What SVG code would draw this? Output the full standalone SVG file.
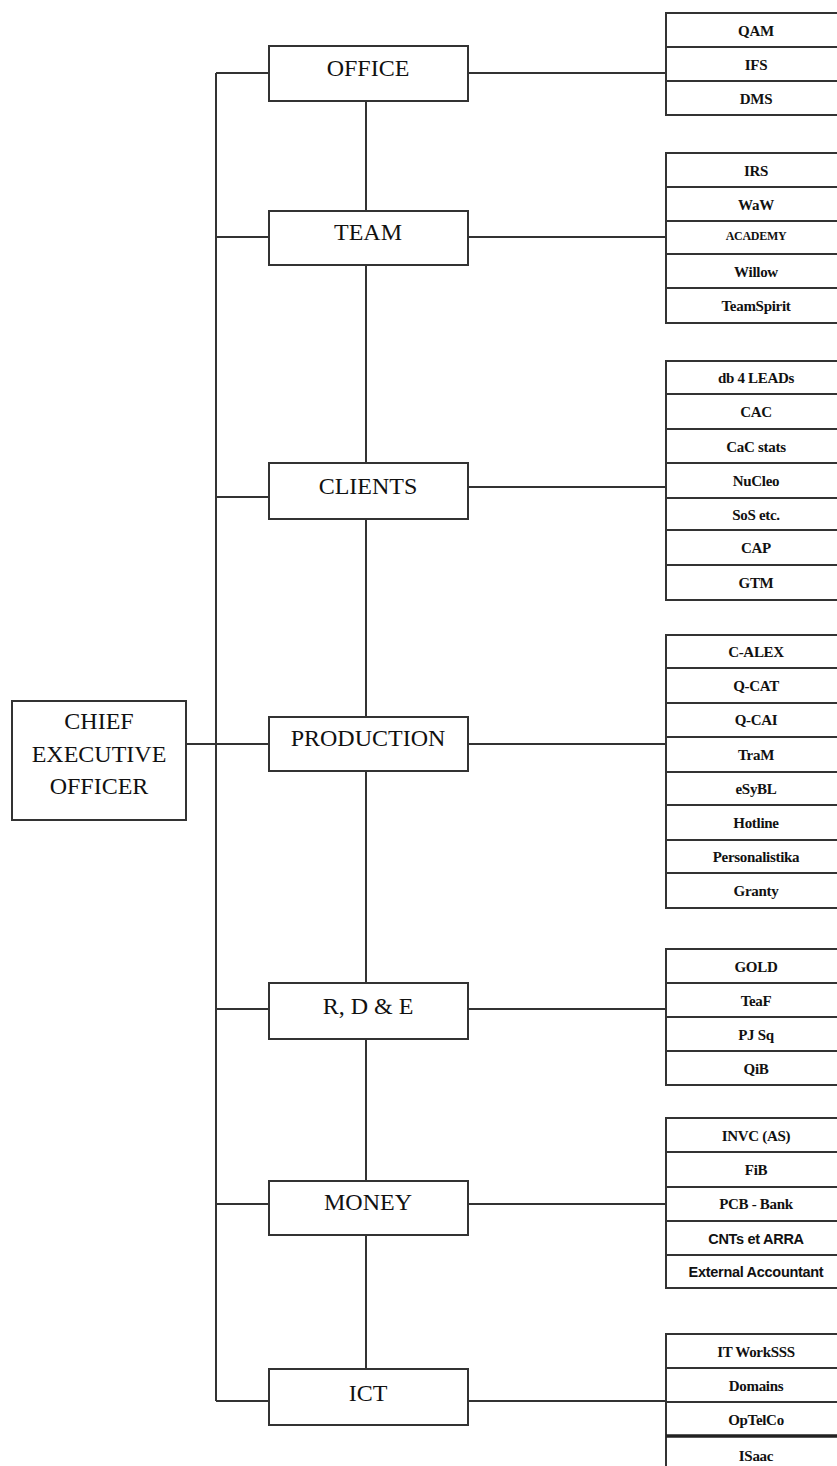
<svg xmlns="http://www.w3.org/2000/svg" width="837" height="1466" viewBox="0 0 837 1466">
<style>
.bx{fill:#fff;stroke:#333;stroke-width:2}
.ln{fill:none;stroke:#333;stroke-width:2}
.mt{font-family:"Liberation Serif","Times New Roman",serif;font-size:24px;fill:#111;text-anchor:middle}
.it{font-family:"Liberation Serif","Times New Roman",serif;font-size:15px;font-weight:bold;fill:#111;text-anchor:middle;letter-spacing:-0.3px}
.sm{font-size:12px}
.sa{font-family:"Liberation Sans",Arial,sans-serif;font-size:14.5px;font-weight:bold;letter-spacing:-0.3px}
</style>
<rect width="837" height="1466" fill="#fff"/>
<g id="connectors">
<path class="ln" d="M216 73V1401"/>
<path class="ln" d="M186 744H269"/>
<path class="ln" d="M216 73H269M216 237H269M216 497H269M216 1009H269M216 1204H269M216 1401H269"/>
<path class="ln" d="M366 101V211M366 265V463M366 519V717M366 771V983M366 1039V1181M366 1235V1369"/>
<path class="ln" d="M468 73H666M468 237H666M468 487H666M468 744H666M468 1009H666M468 1204H666M468 1401H666"/>
</g>
<g id="ceo">
<rect class="bx" x="12" y="701" width="174" height="119"/>
<text class="mt" x="99" y="729">CHIEF</text>
<text class="mt" x="99" y="762">EXECUTIVE</text>
<text class="mt" x="99" y="794">OFFICER</text>
</g>
<g id="office"><rect class="bx" x="269" y="46" width="199" height="55"/><text class="mt" x="368" y="76">OFFICE</text></g>
<g id="team"><rect class="bx" x="269" y="211" width="199" height="54"/><text class="mt" x="368" y="240">TEAM</text></g>
<g id="clients"><rect class="bx" x="269" y="463" width="199" height="56"/><text class="mt" x="368" y="494">CLIENTS</text></g>
<g id="production"><rect class="bx" x="269" y="717" width="199" height="54"/><text class="mt" x="368" y="746">PRODUCTION</text></g>
<g id="rde"><rect class="bx" x="269" y="983" width="199" height="56"/><text class="mt" x="368" y="1014">R, D &amp; E</text></g>
<g id="money"><rect class="bx" x="269" y="1181" width="199" height="54"/><text class="mt" x="368" y="1210">MONEY</text></g>
<g id="ict"><rect class="bx" x="269" y="1369" width="199" height="56"/><text class="mt" x="368" y="1401">ICT</text></g>

<g id="office-list">
<rect class="bx" x="666" y="13" width="190" height="34"/><text class="it" x="756" y="36">QAM</text>
<rect class="bx" x="666" y="47" width="190" height="34"/><text class="it" x="756" y="70">IFS</text>
<rect class="bx" x="666" y="81" width="190" height="34"/><text class="it" x="756" y="104">DMS</text>
</g>
<g id="team-list">
<rect class="bx" x="666" y="153" width="190" height="34"/><text class="it" x="756" y="176">IRS</text>
<rect class="bx" x="666" y="187" width="190" height="34"/><text class="it" x="756" y="210">WaW</text>
<rect class="bx" x="666" y="221" width="190" height="33"/><text class="it sm" x="756" y="240">ACADEMY</text>
<rect class="bx" x="666" y="254" width="190" height="34"/><text class="it" x="756" y="277">Willow</text>
<rect class="bx" x="666" y="288" width="190" height="35"/><text class="it" x="756" y="311">TeamSpirit</text>
</g>
<g id="clients-list">
<rect class="bx" x="666" y="361" width="190" height="33"/><text class="it" x="756" y="383">db 4 LEADs</text>
<rect class="bx" x="666" y="394" width="190" height="35"/><text class="it" x="756" y="417">CAC</text>
<rect class="bx" x="666" y="429" width="190" height="34"/><text class="it" x="756" y="452">CaC stats</text>
<rect class="bx" x="666" y="463" width="190" height="35"/><text class="it" x="756" y="486">NuCleo</text>
<rect class="bx" x="666" y="498" width="190" height="32"/><text class="it" x="756" y="520">SoS etc.</text>
<rect class="bx" x="666" y="530" width="190" height="35"/><text class="it" x="756" y="553">CAP</text>
<rect class="bx" x="666" y="565" width="190" height="35"/><text class="it" x="756" y="588">GTM</text>
</g>
<g id="production-list">
<rect class="bx" x="666" y="635" width="190" height="33"/><text class="it" x="756" y="657">C-ALEX</text>
<rect class="bx" x="666" y="668" width="190" height="35"/><text class="it" x="756" y="691">Q-CAT</text>
<rect class="bx" x="666" y="703" width="190" height="34"/><text class="it" x="756" y="725">Q-CAI</text>
<rect class="bx" x="666" y="737" width="190" height="35"/><text class="it" x="756" y="760">TraM</text>
<rect class="bx" x="666" y="772" width="190" height="33"/><text class="it" x="756" y="794">eSyBL</text>
<rect class="bx" x="666" y="805" width="190" height="35"/><text class="it" x="756" y="828">Hotline</text>
<rect class="bx" x="666" y="840" width="190" height="33"/><text class="it" x="756" y="862">Personalistika</text>
<rect class="bx" x="666" y="873" width="190" height="35"/><text class="it" x="756" y="896">Granty</text>
</g>
<g id="rde-list">
<rect class="bx" x="666" y="949" width="190" height="34"/><text class="it" x="756" y="972">GOLD</text>
<rect class="bx" x="666" y="983" width="190" height="34"/><text class="it" x="756" y="1006">TeaF</text>
<rect class="bx" x="666" y="1017" width="190" height="34"/><text class="it" x="756" y="1040">PJ Sq</text>
<rect class="bx" x="666" y="1051" width="190" height="34"/><text class="it" x="756" y="1074">QiB</text>
</g>
<g id="money-list">
<rect class="bx" x="666" y="1118" width="190" height="34"/><text class="it" x="756" y="1141">INVC (AS)</text>
<rect class="bx" x="666" y="1152" width="190" height="35"/><text class="it" x="756" y="1175">FiB</text>
<rect class="bx" x="666" y="1187" width="190" height="34"/><text class="it" x="756" y="1209">PCB - Bank</text>
<rect class="bx" x="666" y="1221" width="190" height="34"/><text class="it sa" x="756" y="1244">CNTs et ARRA</text>
<rect class="bx" x="666" y="1255" width="190" height="33"/><text class="it sa" x="756" y="1277">External Accountant</text>
</g>
<g id="ict-list">
<rect class="bx" x="666" y="1334" width="190" height="34"/><text class="it" x="756" y="1357">IT WorkSSS</text>
<rect class="bx" x="666" y="1368" width="190" height="34"/><text class="it" x="756" y="1391">Domains</text>
<rect class="bx" x="666" y="1402" width="190" height="34"/><text class="it" x="756" y="1425">OpTelCo</text>
<rect class="bx" x="666" y="1436" width="190" height="40"/><path d="M666 1436H856" style="stroke:#222;stroke-width:3.5"/><text class="it" x="756" y="1461">ISaac</text>
</g>
</svg>
